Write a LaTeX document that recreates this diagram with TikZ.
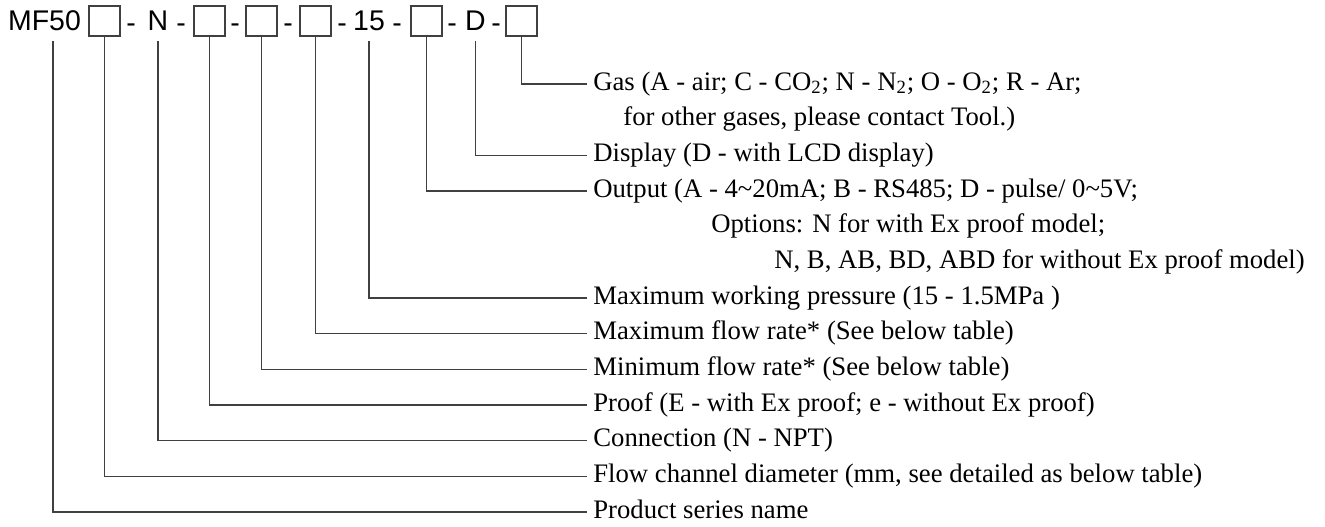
\documentclass[tikz,border=0pt]{standalone}
\usepackage{fontspec}
\setmainfont{Liberation Serif}
\newfontfamily\codefont{Liberation Sans}
\usetikzlibrary{positioning}

\begin{document}
\begin{tikzpicture}[
  x=0.02cm, y=-0.02cm,
  box/.style={draw, black!75, line width=0.6pt, minimum width=0.62cm, minimum height=0.6cm, inner sep=0},
  code/.style={inner sep=0, minimum height=0.66cm, text height=0.72em, text depth=0pt,
    font=\codefont\fontsize{16.2}{18}\selectfont},
  sep/.style={code},
  lbl/.style={anchor=west, inner ysep=0, inner xsep=0.12cm, text height=0.9em, text depth=0.2em,
    font=\fontsize{15.2}{18}\selectfont},
  more/.style={anchor=west, inner sep=0, text height=0.9em, text depth=0.2em,
    font=\fontsize{15.2}{18}\selectfont},
  lead/.style={black!75, line width=0.6pt}
]
\useasboundingbox (0,0) rectangle (1325,527);

% model code
\node[code] (mf) at (44.5,24.5) {MF50};
\node[box] (b1) at (104.5,21) {};
\node[sep] (s1) at (131,26) {-};
\node[code] (n) at (158,24.5) {N};
\node[sep] (s2) at (181,26) {-};
\node[box] (b2) at (209.5,21) {};
\node[sep] (s3) at (235,26) {-};
\node[box] (b3) at (261.5,21) {};
\node[sep] (s4) at (288,26) {-};
\node[box] (b4) at (315.5,21) {};
\node[sep] (s5) at (342,26) {-};
\node[code] (p15) at (369,24.5) {15};
\node[sep] (s6) at (397,26) {-};
\node[box] (b5) at (426.5,21) {};
\node[sep] (s7) at (452,26) {-};
\node[code] (d) at (475.5,24.5) {D};
\node[sep] (s8) at (496,26) {-};
\node[box] (b6) at (521.5,21) {};

% descriptions
\node[lbl] (gas) at (587,84) {Gas (A - air; C - CO\textsubscript{2}; N - N\textsubscript{2}; O - O\textsubscript{2}; R - Ar;};
\node[more] (gas2) at (623,119.7) {for other gases, please contact Tool.)};
\node[lbl] (disp) at (587,155.3) {Display (D - with LCD display)};
\node[lbl] (out) at (587,191) {Output (A - 4\textasciitilde20mA; B - RS485; D - pulse/ 0\textasciitilde5V;};
\node[more] (out2) at (711,226.7) {Options: N for with Ex proof model;};
\node[more] (out3) at (774,262.3) {N, B, AB, BD, ABD for without Ex proof model)};
\node[lbl] (press) at (587,298) {Maximum working pressure (15 - 1.5MPa )};
\node[lbl] (qmax) at (587,333.7) {Maximum flow rate* (See below table)};
\node[lbl] (qmin) at (587,369.3) {Minimum flow rate* (See below table)};
\node[lbl] (proof) at (587,405) {Proof (E - with Ex proof; e - without Ex proof)};
\node[lbl] (conn) at (587,440.7) {Connection (N - NPT)};
\node[lbl] (dia) at (587,476.3) {Flow channel diameter (mm, see detailed as below table)};
\node[lbl] (series) at (587,512) {Product series name};

% leaders
\draw[lead] (b6.south) |- (gas.west);
\draw[lead] (d.south) |- (disp.west);
\draw[lead] (b5.south) |- (out.west);
\draw[lead] (p15.south) |- (press.west);
\draw[lead] (b4.south) |- (qmax.west);
\draw[lead] (b3.south) |- (qmin.west);
\draw[lead] (b2.south) |- (proof.west);
\draw[lead] (n.south) |- (conn.west);
\draw[lead] (b1.south) |- (dia.west);
\draw[lead] ([xshift=0.17cm]mf.south) |- (series.west);

\end{tikzpicture}
\end{document}
